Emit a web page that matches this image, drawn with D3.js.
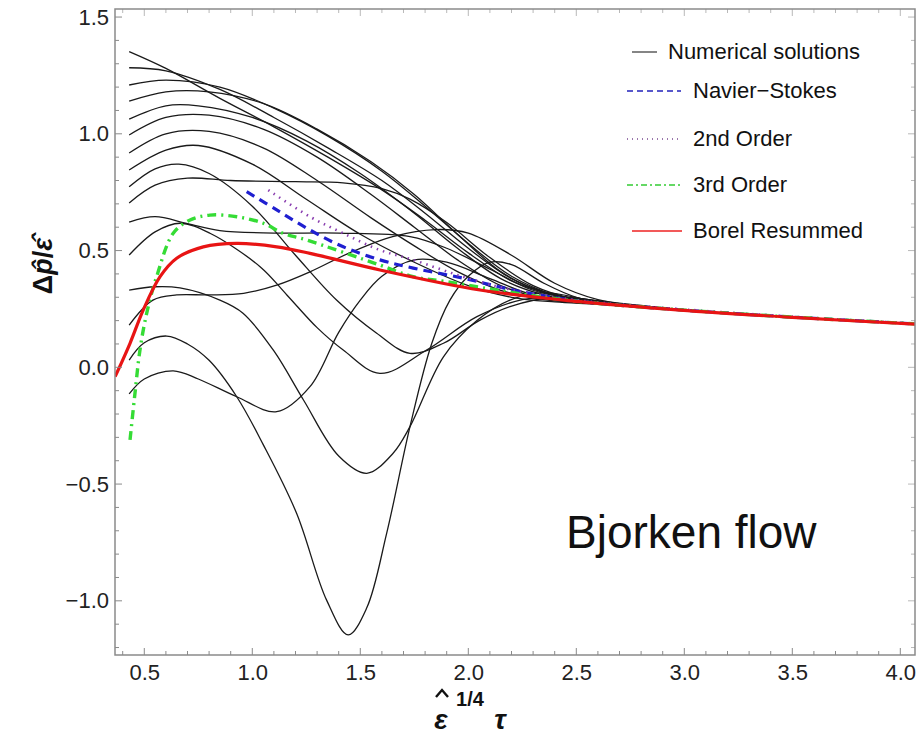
<!DOCTYPE html>
<html><head><meta charset="utf-8">
<script src="https://cdn.jsdelivr.net/npm/d3@7"></script>
<style>body{margin:0;background:#fff}</style>
</head><body><svg id="c" width="924" height="739"></svg>
<script>
// ---------- data ----------
const xTickValues = [0.5,1.0,1.5,2.0,2.5,3.0,3.5,4.0];
const yTickValues = [-1.0,-0.5,0.0,0.5,1.0,1.5];
const xTickLabels = ["0.5","1.0","1.5","2.0","2.5","3.0","3.5","4.0"];
const yTickLabels = ["\u22121.0","\u22120.5","0.0","0.5","1.0","1.5"];
const legendLabels = ["Numerical solutions","Navier\u2212Stokes","2nd Order","3rd Order","Borel Resummed"];

const numerical01 = [[0.43,1.352],[0.6,1.28],[0.85,1.152],[1.1,1.03],[1.35,0.9],[1.6,0.76],[1.8,0.63],[2.0,0.49],[2.2,0.37],[2.4,0.31],[2.6,0.28],[3.0,0.245]];
const numerical02 = [[0.43,1.283],[0.6,1.27],[0.85,1.19],[1.1,1.07],[1.35,0.94],[1.6,0.80],[1.8,0.66],[2.0,0.51],[2.2,0.38],[2.4,0.31],[2.6,0.28],[3.0,0.245]];
const numerical03 = [[0.43,1.209],[0.6,1.23],[0.85,1.2],[1.1,1.11],[1.35,0.99],[1.6,0.84],[1.8,0.69],[2.0,0.53],[2.2,0.39],[2.4,0.31],[2.6,0.28],[3.0,0.245]];
const numerical04 = [[0.43,1.14],[0.6,1.18],[0.8,1.18],[1.05,1.13],[1.3,1.02],[1.55,0.88],[1.75,0.74],[1.95,0.57],[2.15,0.41],[2.35,0.32],[2.55,0.285],[2.8,0.26],[3.0,0.245]];
const numerical05 = [[0.43,1.063],[0.6,1.12],[0.75,1.12],[1.0,1.07],[1.25,0.97],[1.5,0.83],[1.75,0.66],[1.95,0.51],[2.15,0.38],[2.35,0.31],[2.55,0.28],[2.8,0.26],[3.0,0.245]];
const numerical06 = [[0.43,0.995],[0.6,1.07],[0.8,1.08],[1.05,1.02],[1.3,0.9],[1.55,0.74],[1.75,0.6],[1.95,0.46],[2.15,0.35],[2.35,0.295],[2.55,0.275],[2.8,0.26],[3.0,0.245]];
const numerical07 = [[0.43,0.918],[0.6,1.0],[0.8,1.01],[1.05,0.94],[1.3,0.8],[1.55,0.64],[1.75,0.52],[1.95,0.41],[2.15,0.33],[2.35,0.29],[2.55,0.275],[2.8,0.26],[3.0,0.245]];
const numerical08 = [[0.43,0.845],[0.6,0.93],[0.75,0.95],[1.0,0.87],[1.25,0.72],[1.5,0.57],[1.75,0.45],[2.0,0.35],[2.2,0.3],[2.4,0.28],[2.6,0.27],[3.0,0.245]];
const numerical09 = [[0.43,0.773],[0.55,0.85],[0.66,0.87],[0.8,0.83],[1.0,0.69],[1.2,0.48],[1.39,0.288],[1.576,0.146],[1.73,0.06],[1.885,0.103],[2.05,0.2],[2.193,0.26],[2.4,0.3],[2.6,0.285],[2.8,0.26],[3.0,0.245]];
const numerical10 = [[0.43,0.704],[0.55,0.78],[0.7,0.81],[0.9,0.80],[1.2,0.795],[1.42,0.79],[1.6,0.765],[1.73,0.72],[1.9,0.62],[2.1,0.47],[2.3,0.35],[2.5,0.29],[2.7,0.265],[3.0,0.245]];
const numerical11 = [[0.43,0.622],[0.55,0.645],[0.7,0.615],[0.85,0.585],[1.1,0.575],[1.4,0.575],[1.73,0.56],[1.9,0.51],[2.1,0.42],[2.3,0.33],[2.5,0.29],[2.7,0.265],[3.0,0.245]];
const numerical12 = [[0.43,0.481],[0.55,0.58],[0.666,0.617],[0.804,0.574],[1.036,0.431],[1.16,0.31],[1.3,0.17],[1.421,0.074],[1.591,-0.026],[1.807,0.074],[2.04,0.217],[2.25,0.29],[2.45,0.30],[2.7,0.27],[3.0,0.245]];
const numerical13 = [[0.43,0.331],[0.55,0.345],[0.665,0.34],[0.85,0.288],[0.957,0.232],[1.1,0.07],[1.237,-0.14],[1.4,-0.38],[1.53,-0.454],[1.65,-0.37],[1.73,-0.254],[1.885,0.045],[2.04,0.2],[2.193,0.288],[2.35,0.32],[2.55,0.29],[2.8,0.26],[3.0,0.245]];
const numerical14 = [[0.43,0.181],[0.54,0.288],[0.65,0.31],[0.8,0.31],[0.96,0.317],[1.113,0.352],[1.267,0.409],[1.45,0.49],[1.65,0.56],[1.85,0.59],[2.0,0.575],[2.2,0.48],[2.4,0.36],[2.6,0.29],[2.8,0.265],[3.0,0.245]];
const numerical15 = [[0.43,0.031],[0.5,0.105],[0.604,0.134],[0.7,0.10],[0.8,0.03],[0.928,-0.126],[1.05,-0.33],[1.205,-0.625],[1.344,-0.997],[1.444,-1.146],[1.53,-1.03],[1.622,-0.711],[1.73,-0.254],[1.83,0.1],[1.915,0.288],[2.0,0.39],[2.1,0.45],[2.2,0.44],[2.35,0.36],[2.5,0.30],[2.7,0.265],[3.0,0.245]];
const numerical16 = [[0.43,-0.114],[0.5,-0.05],[0.634,-0.015],[0.75,-0.05],[0.928,-0.126],[1.113,-0.19],[1.267,-0.083],[1.4,0.15],[1.5,0.288],[1.6,0.39],[1.75,0.46],[1.9,0.45],[2.1,0.38],[2.3,0.31],[2.5,0.285],[2.7,0.27],[3.0,0.245]];

const navierStokes = [[0.974,0.752],[1.113,0.674],[1.267,0.588],[1.421,0.516],[1.591,0.46],[1.745,0.425],[1.975,0.382],[2.207,0.331],[2.5,0.285],[3.0,0.245],[3.5,0.215],[4.068,0.186]];
const secondOrder = [[1.074,0.759],[1.267,0.645],[1.421,0.574],[1.591,0.502],[1.745,0.46],[1.975,0.388],[2.207,0.331],[2.5,0.288],[3.0,0.248],[3.5,0.217],[4.068,0.187]];
const thirdOrder = [[0.434,-0.311],[0.457,-0.11],[0.48,0.074],[0.511,0.231],[0.557,0.388],[0.634,0.574],[0.712,0.631],[0.804,0.652],[0.928,0.645],[1.051,0.617],[1.143,0.574],[1.252,0.545],[1.591,0.438],[1.745,0.388],[1.9,0.367],[2.13,0.331],[2.5,0.283],[3.0,0.245],[3.5,0.215],[4.068,0.186]];
const borelResummed = [[0.365,-0.04],[0.434,0.103],[0.495,0.245],[0.573,0.388],[0.65,0.467],[0.773,0.516],[0.928,0.531],[1.113,0.516],[1.267,0.488],[1.591,0.417],[2.054,0.331],[2.517,0.281],[2.98,0.245],[3.5,0.214],[4.068,0.185]];

const numericalSeries = [numerical01,numerical02,numerical03,numerical04,numerical05,numerical06,numerical07,numerical08,
  numerical09,numerical10,numerical11,numerical12,numerical13,numerical14,numerical15,numerical16];

// ---------- layout ----------
const svg = d3.select("#c");
const L = 115, R = 915, T = 9, B = 655;
const x = d3.scaleLinear().domain([0.3644, 4.068]).range([L, R]);
const y = d3.scaleLinear().domain([-1.232, 1.5345]).range([B, T]);

const frameColor = "#8a8a8a";
const font = "'Liberation Sans', Arial, sans-serif";

svg.append("clipPath").attr("id","clip").append("rect").attr("x",L).attr("y",T).attr("width",R-L).attr("height",B-T);

const line = d3.line().x(d=>x(d[0])).y(d=>y(d[1])).curve(d3.curveCatmullRom.alpha(0.5));
const plot = svg.append("g").attr("clip-path","url(#clip)");

plot.selectAll("path.num").data(numericalSeries).enter().append("path")
  .attr("class","num").attr("d",line).attr("fill","none").attr("stroke","#1a1a1a").attr("stroke-width",1.3);

plot.append("path").attr("d",line(navierStokes)).attr("fill","none").attr("stroke","#1f1fd0")
  .attr("stroke-width",3.2).attr("stroke-dasharray","9,6");
plot.append("path").attr("d",line(secondOrder)).attr("fill","none").attr("stroke","#8a3fb0")
  .attr("stroke-width",2.6).attr("stroke-dasharray","1.5,5");
plot.append("path").attr("d",line(thirdOrder)).attr("fill","none").attr("stroke","#35dc35")
  .attr("stroke-width",3.4).attr("stroke-dasharray","9,5,2,5");
plot.append("path").attr("d",line(borelResummed)).attr("fill","none").attr("stroke","#e81414")
  .attr("stroke-width",3.2);

// frame
svg.append("rect").attr("x",L).attr("y",T).attr("width",R-L).attr("height",B-T)
  .attr("fill","none").attr("stroke",frameColor).attr("stroke-width",1.5);

// ticks (inside) on all four sides
const xMinor = d3.range(4, 41).map(i=>i/10).filter(v=>v>=x.domain()[0] && v<=x.domain()[1]);
const yMinor = d3.range(-12, 16).map(i=>i/10).filter(v=>v>=y.domain()[0] && v<=y.domain()[1]);
const isMajor = v => Math.abs(v*2 - Math.round(v*2)) < 1e-6;
const tickG = svg.append("g").attr("stroke",frameColor).attr("stroke-width",1);
xMinor.forEach(v=>{
  const len = isMajor(v)?7:4, px = x(v);
  tickG.append("line").attr("x1",px).attr("x2",px).attr("y1",B).attr("y2",B-len);
  tickG.append("line").attr("x1",px).attr("x2",px).attr("y1",T).attr("y2",T+len).attr("stroke-opacity",0.6);
});
yMinor.forEach(v=>{
  const len = isMajor(v)?7:4, py = y(v);
  tickG.append("line").attr("x1",L).attr("x2",L+len).attr("y1",py).attr("y2",py);
  tickG.append("line").attr("x1",R).attr("x2",R-len).attr("y1",py).attr("y2",py).attr("stroke-opacity",0.6);
});

// tick labels via axes
const xAxis = d3.axisBottom(x).tickValues(xTickValues).tickSize(0).tickPadding(0)
  .tickFormat((d,i)=>xTickLabels[i]);
const gx = svg.append("g").attr("transform",`translate(0,${B})`).call(xAxis);
gx.select(".domain").remove();
gx.selectAll("text").attr("font-family",font).attr("font-size",22).attr("fill","#222").attr("dy","1.05em").attr("y",2);

const yAxis = d3.axisLeft(y).tickValues(yTickValues).tickSize(0).tickPadding(6)
  .tickFormat((d,i)=>yTickLabels[i]);
const gy = svg.append("g").attr("transform",`translate(${L},0)`).call(yAxis);
gy.select(".domain").remove();
gy.selectAll("text").attr("font-family",font).attr("font-size",22).attr("fill","#222");

// axis titles
const yt = svg.append("text").attr("transform","translate(52,266) rotate(-90)")
  .attr("text-anchor","middle").attr("font-family",font).attr("font-weight","bold").attr("font-size",27).attr("fill","#111");
yt.append("tspan").text("\u0394");
yt.append("tspan").attr("font-style","italic").text("p\u0302");
yt.append("tspan").text("/");
yt.append("tspan").attr("font-style","italic").text("\u03b5\u0302");

const xt = svg.append("g").attr("font-family",font).attr("font-weight","bold").attr("fill","#111");
xt.append("text").attr("x",441).attr("y",729).attr("text-anchor","middle").attr("font-size",28).attr("font-style","italic").text("\u03b5");
// hat over epsilon drawn as a small chevron
xt.append("path").attr("d","M436,697 L442,690 L448,697").attr("fill","none").attr("stroke","#111").attr("stroke-width",2.4);
xt.append("text").attr("x",470).attr("y",706).attr("text-anchor","middle").attr("font-size",20).text("1/4");
xt.append("text").attr("x",500).attr("y",729).attr("text-anchor","middle").attr("font-size",28).attr("font-style","italic").text("\u03c4");

// legend
const legY = [52, 91, 139, 185, 231];
const legTextX = [668, 693, 693, 693, 693];
const legStyles = [
  {x1:632,x2:657,stroke:"#333",w:1.2,dash:null},
  {x1:627,x2:681,stroke:"#2222bb",w:1.3,dash:"6,4"},
  {x1:627,x2:681,stroke:"#7a4a90",w:1.4,dash:"1,4"},
  {x1:627,x2:681,stroke:"#33cc33",w:1.4,dash:"6,3,2,3"},
  {x1:632,x2:682,stroke:"#e22",w:1.4,dash:null}
];
const leg = svg.append("g");
legendLabels.forEach((lab,i)=>{
  const s = legStyles[i];
  leg.append("line").attr("x1",s.x1).attr("x2",s.x2).attr("y1",legY[i]).attr("y2",legY[i])
    .attr("stroke",s.stroke).attr("stroke-width",s.w).attr("stroke-dasharray",s.dash);
  leg.append("text").attr("x",legTextX[i]).attr("y",legY[i]+7).attr("font-family",font).attr("font-size",22)
    .attr("fill","#111").text(lab);
});

svg.append("text").attr("x",566).attr("y",548).attr("font-family",font).attr("font-size",46).attr("fill","#111").text("Bjorken flow");
</script></body></html>
